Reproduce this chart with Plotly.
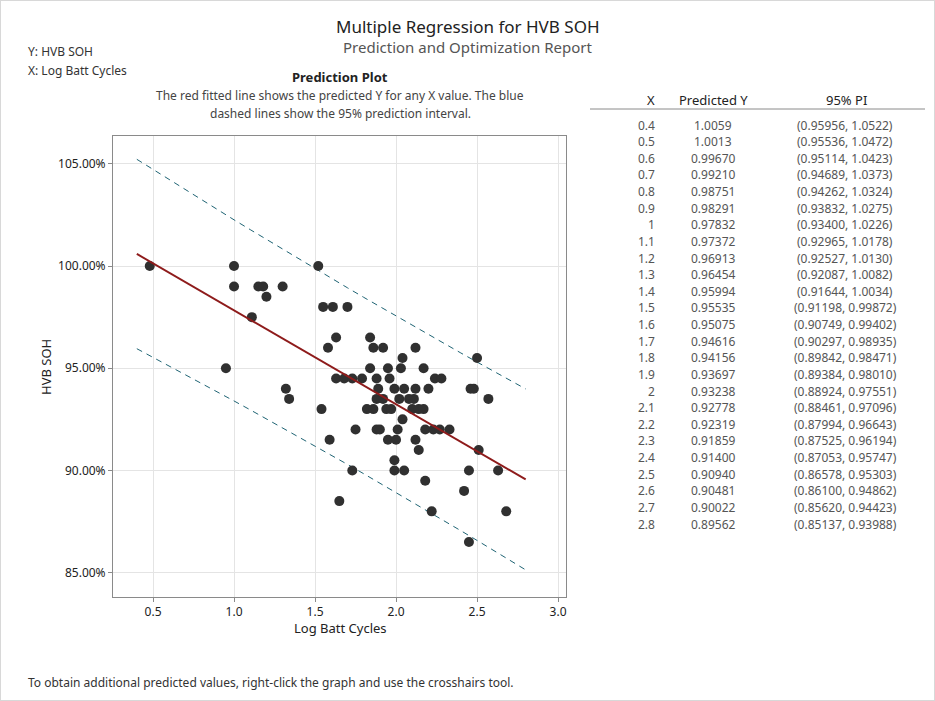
import plotly.graph_objects as go

W, H = 935, 701

# ---- Data ----
obs_x = [0.48, 1.00, 1.00, 1.15, 1.18, 1.20, 1.30, 1.11, 0.95, 1.32, 1.34,
         1.52, 1.55, 1.61, 1.70, 1.63, 1.58, 1.84, 1.86, 1.92, 2.12, 2.04,
         1.84, 1.95, 2.03, 2.17, 2.50,
         1.63, 1.68, 1.73, 1.79, 1.88, 1.96, 2.24, 2.28,
         1.89, 1.99, 2.05, 2.12, 2.20, 2.46, 2.48,
         1.88, 1.92, 2.02, 2.08, 2.11, 2.57,
         1.54, 1.82, 1.86, 1.94, 1.97, 2.10, 2.14, 2.17,
         2.04,
         1.75, 1.88, 1.90, 2.01, 2.18, 2.23, 2.27, 2.33,
         1.59, 1.95, 2.00, 2.12,
         2.14, 2.51,
         1.99,
         1.73, 1.99, 2.05, 2.45, 2.63,
         2.18, 2.42, 1.65, 2.22, 2.68, 2.45]
obs_y = [1.000, 1.000, 0.990, 0.990, 0.990, 0.985, 0.990, 0.975, 0.950, 0.940, 0.935,
         1.000, 0.980, 0.980, 0.980, 0.965, 0.960, 0.965, 0.960, 0.960, 0.960, 0.955,
         0.950, 0.950, 0.950, 0.950, 0.955,
         0.945, 0.945, 0.945, 0.945, 0.945, 0.945, 0.945, 0.945,
         0.940, 0.940, 0.940, 0.940, 0.940, 0.940, 0.940,
         0.935, 0.935, 0.935, 0.935, 0.935, 0.935,
         0.930, 0.930, 0.930, 0.930, 0.930, 0.930, 0.930, 0.930,
         0.925,
         0.920, 0.920, 0.920, 0.920, 0.920, 0.920, 0.920, 0.920,
         0.915, 0.915, 0.915, 0.915,
         0.910, 0.910,
         0.905,
         0.900, 0.900, 0.900, 0.900, 0.900,
         0.895, 0.890, 0.885, 0.880, 0.880, 0.865]

tab_x = [0.4, 0.5, 0.6, 0.7, 0.8, 0.9, 1.0, 1.1, 1.2, 1.3, 1.4, 1.5, 1.6,
         1.7, 1.8, 1.9, 2.0, 2.1, 2.2, 2.3, 2.4, 2.5, 2.6, 2.7, 2.8]
tab_x_text = ["0.4", "0.5", "0.6", "0.7", "0.8", "0.9", "1", "1.1", "1.2", "1.3",
              "1.4", "1.5", "1.6", "1.7", "1.8", "1.9", "2", "2.1", "2.2", "2.3",
              "2.4", "2.5", "2.6", "2.7", "2.8"]
pred_y = ["1.0059", "1.0013", "0.99670", "0.99210", "0.98751", "0.98291", "0.97832",
          "0.97372", "0.96913", "0.96454", "0.95994", "0.95535", "0.95075", "0.94616",
          "0.94156", "0.93697", "0.93238", "0.92778", "0.92319", "0.91859", "0.91400",
          "0.90940", "0.90481", "0.90022", "0.89562"]
pi_low = ["0.95956", "0.95536", "0.95114", "0.94689", "0.94262", "0.93832", "0.93400",
          "0.92965", "0.92527", "0.92087", "0.91644", "0.91198", "0.90749", "0.90297",
          "0.89842", "0.89384", "0.88924", "0.88461", "0.87994", "0.87525", "0.87053",
          "0.86578", "0.86100", "0.85620", "0.85137"]
pi_high = ["1.0522", "1.0472", "1.0423", "1.0373", "1.0324", "1.0275", "1.0226",
           "1.0178", "1.0130", "1.0082", "1.0034", "0.99872", "0.99402", "0.98935",
           "0.98471", "0.98010", "0.97551", "0.97096", "0.96643", "0.96194", "0.95747",
           "0.95303", "0.94862", "0.94423", "0.93988"]

x_ticks = [0.5, 1.0, 1.5, 2.0, 2.5, 3.0]
y_ticks = [0.85, 0.90, 0.95, 1.00, 1.05]

FONT = "Noto Sans"

fig = go.Figure()
fig.add_trace(go.Scatter(x=tab_x, y=[float(v) for v in pi_high], mode="lines",
                         line=dict(color="#1f6474", width=1, dash="6px,5px"),
                         hoverinfo="skip", showlegend=False))
fig.add_trace(go.Scatter(x=tab_x, y=[float(v) for v in pi_low], mode="lines",
                         line=dict(color="#1f6474", width=1, dash="6px,5px"),
                         hoverinfo="skip", showlegend=False))
fig.add_trace(go.Scatter(x=obs_x, y=obs_y, mode="markers",
                         marker=dict(color="#303030", size=10, line=dict(width=0)),
                         showlegend=False))
fig.add_trace(go.Scatter(x=tab_x, y=[float(v) for v in pred_y], mode="lines",
                         line=dict(color="#8e1b1b", width=2),
                         showlegend=False))

def py(p):
    return 1 - p / H

def px(p):
    return p / W

fig.update_layout(
    width=W, height=H,
    margin=dict(l=0, r=0, t=0, b=0),
    paper_bgcolor="white", plot_bgcolor="white",
    font=dict(family=FONT, color="#222", size=12),
    xaxis=dict(domain=[px(113), px(566)], range=[0.253, 3.049],
               tickvals=x_ticks, tickformat=".1f",
               showgrid=True, gridcolor="#e4e4e4", gridwidth=1,
               zeroline=False, showline=True, linecolor="#8a8a8a", linewidth=1,
               mirror=True, ticks="outside", ticklen=4, tickcolor="#8a8a8a",
               tickfont=dict(size=12, color="#222")),
    yaxis=dict(domain=[py(597), py(136)], range=[0.8381, 1.0636],
               tickvals=y_ticks, tickformat=".2%",
               showgrid=True, gridcolor="#e4e4e4", gridwidth=1,
               zeroline=False, showline=True, linecolor="#8a8a8a", linewidth=1,
               mirror=True, ticks="outside", ticklen=4, tickcolor="#8a8a8a",
               tickfont=dict(size=12, color="#222")),
)

ann = []
def text(x, y, s, size=12, color="#333", xanchor="left", bold=False, angle=0):
    if bold:
        s = "<b>" + s + "</b>"
    ann.append(dict(x=px(x), y=py(y), xref="paper", yref="paper", text=s,
                    showarrow=False, xanchor=xanchor, yanchor="middle",
                    font=dict(size=size, color=color, family=FONT), textangle=angle))

text(468, 27, "Multiple Regression for HVB SOH", size=17, color="#222", xanchor="center")
text(468, 47, "Prediction and Optimization Report", size=15, color="#555", xanchor="center")
text(26, 51, "Y: HVB SOH", size=12, color="#333")
text(26, 70, "X: Log Batt Cycles", size=12, color="#333")
text(340, 77, "Prediction Plot", size=13, color="#222", xanchor="center", bold=True)
text(340, 96, "The red fitted line shows the predicted Y for any X value. The blue",
     size=12, color="#444", xanchor="center")
text(340, 113, "dashed lines show the 95% prediction interval.", size=12, color="#444",
     xanchor="center")
text(340, 628, "Log Batt Cycles", size=13, color="#222", xanchor="center")
text(46, 367, "HVB SOH", size=13, color="#222", xanchor="center", angle=-90)
text(26, 682, "To obtain additional predicted values, right-click the graph and use the crosshairs tool.",
     size=12, color="#333")

# Table
text(657, 100, "X", size=13, color="#222", xanchor="right")
text(713, 100, "Predicted Y", size=13, color="#222", xanchor="center")
text(846, 100, "95% PI", size=13, color="#222", xanchor="center")
for i in range(len(tab_x)):
    yy = 125 + 16.63 * i
    text(657, yy, tab_x_text[i], size=12, color="#555", xanchor="right")
    text(713, yy, pred_y[i], size=12, color="#555", xanchor="center")
    text(845, yy, "(" + pi_low[i] + ", " + pi_high[i] + ")", size=12, color="#555",
         xanchor="center")

fig.update_layout(annotations=ann)
fig.add_shape(type="line", xref="paper", yref="paper", x0=px(590), x1=px(925),
              y0=py(109), y1=py(109), line=dict(color="#8a8a8a", width=1))
fig.add_shape(type="rect", xref="paper", yref="paper", x0=0, x1=1, y0=0, y1=1,
              line=dict(color="#d8d8d8", width=2))

fig.write_html("out.html")
